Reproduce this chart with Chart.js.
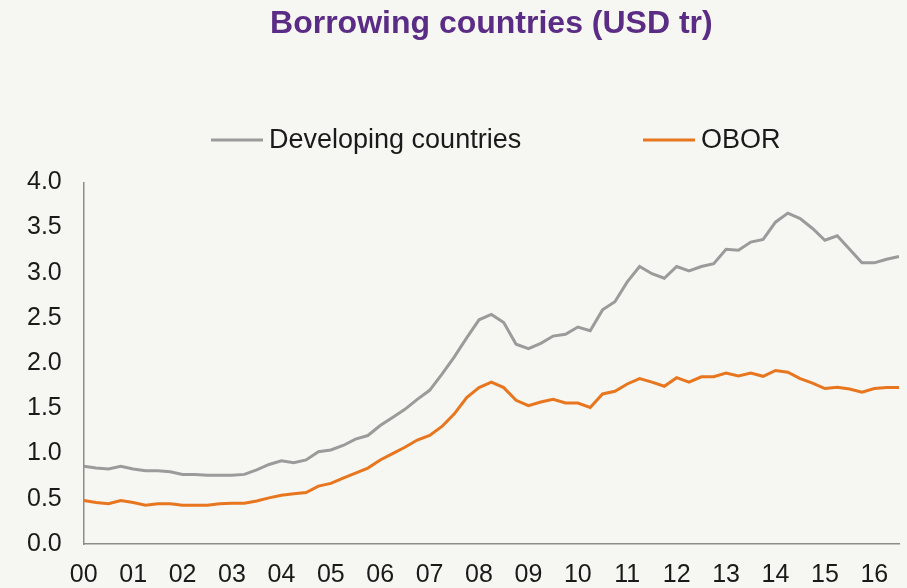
<!DOCTYPE html>
<html>
<head>
<meta charset="utf-8">
<script src="https://cdn.jsdelivr.net/npm/chart.js@4.4.1/dist/chart.umd.min.js"></script>
<style>
  html, body { margin: 0; padding: 0; background: #f6f6f2; }
  #wrap { width: 907px; height: 588px; }
</style>
</head>
<body>
<div id="wrap"><canvas id="myChart"></canvas></div>
<script>
// quarterly data, 2000 Q1 .. 2016 Q3
const yearTicks = ['00','01','02','03','04','05','06','07','08','09','10','11','12','13','14','15','16'];
const quarters = [];
yearTicks.forEach(y => ['Q1','Q2','Q3','Q4'].forEach(q => quarters.push(y + ' ' + q)));
quarters.length = 67;

const developing = [
  0.86, 0.84, 0.83, 0.86, 0.83, 0.81, 0.81, 0.80, 0.77, 0.77, 0.76, 0.76,
  0.76, 0.77, 0.82, 0.88, 0.92, 0.90, 0.93, 1.02, 1.04, 1.09, 1.16, 1.20,
  1.31, 1.40, 1.49, 1.60, 1.70, 1.88, 2.07, 2.28, 2.48, 2.54, 2.45, 2.21,
  2.16, 2.22, 2.30, 2.32, 2.40, 2.36, 2.59, 2.68, 2.90, 3.07, 2.99, 2.94,
  3.07, 3.02, 3.07, 3.10, 3.26, 3.25, 3.34, 3.37, 3.56, 3.66, 3.60, 3.49,
  3.36, 3.41, 3.26, 3.11, 3.11, 3.15, 3.18
];
const obor = [
  0.48, 0.46, 0.445, 0.48, 0.46, 0.43, 0.445, 0.445, 0.43, 0.43, 0.43, 0.445,
  0.45, 0.45, 0.475, 0.51, 0.54, 0.555, 0.57, 0.64, 0.67, 0.73, 0.785, 0.84,
  0.93, 1.00, 1.07, 1.15, 1.20, 1.30, 1.44, 1.62, 1.73, 1.79, 1.73, 1.59,
  1.53, 1.57, 1.60, 1.56, 1.56, 1.51, 1.66, 1.69, 1.77, 1.83, 1.79, 1.745,
  1.84, 1.79, 1.85, 1.85, 1.89, 1.86, 1.89, 1.855, 1.92, 1.90, 1.83, 1.78,
  1.72, 1.735, 1.715, 1.68, 1.72, 1.73, 1.73
];

const FONT = '"Liberation Sans", Arial, sans-serif';

// legend drawn as two spaced items over the plot area
const lineLegend = {
  id: 'lineLegend',
  afterDraw(chart) {
    const ctx = chart.ctx;
    const y = 140;
    const starts = [211, 643];
    ctx.save();
    ctx.font = '27px ' + FONT;
    ctx.textBaseline = 'middle';
    ctx.textAlign = 'left';
    chart.data.datasets.forEach((ds, i) => {
      const x = starts[i];
      ctx.strokeStyle = ds.borderColor;
      ctx.lineWidth = ds.borderWidth;
      ctx.beginPath();
      ctx.moveTo(x, y);
      ctx.lineTo(x + 52, y);
      ctx.stroke();
      ctx.fillStyle = '#1a1a1a';
      ctx.fillText(ds.label, x + 58, y + 1);
    });
    ctx.restore();
  }
};

new Chart(document.getElementById('myChart'), {
  type: 'line',
  data: {
    labels: quarters,
    datasets: [
      { label: 'Developing countries', data: developing, borderColor: '#9b9b9b', borderWidth: 3 },
      { label: 'OBOR', data: obor, borderColor: '#e8761f', borderWidth: 3 }
    ]
  },
  options: {
    responsive: true,
    maintainAspectRatio: false,
    animation: false,
    elements: { point: { radius: 0 }, line: { tension: 0 } },
    layout: { padding: { left: 5, right: 8, top: 0, bottom: -18 } },
    plugins: {
      legend: { display: false },
      tooltip: { enabled: false },
      title: {
        display: true,
        fullSize: false,
        text: 'Borrowing countries (USD tr)',
        color: '#5b2c86',
        font: { family: FONT, size: 32, weight: 'bold' },
        padding: { top: 5, bottom: 139 }
      }
    },
    scales: {
      x: {
        offset: false,
        afterFit: scale => { scale.paddingRight = 0; },
        grid: { display: false, drawTicks: false },
        border: { display: true, color: '#8c8c8c', width: 1.5 },
        ticks: {
          autoSkip: false,
          maxRotation: 0,
          padding: 16,
          color: '#1a1a1a',
          font: { family: FONT, size: 25 },
          callback: (v, i) => (i % 4 === 0 ? yearTicks[i / 4] : '')
        }
      },
      y: {
        min: 0,
        max: 4,
        grid: { display: false, drawTicks: false },
        border: { display: true, color: '#8c8c8c', width: 1.5 },
        ticks: {
          stepSize: 0.5,
          padding: 22,
          color: '#1a1a1a',
          font: { family: FONT, size: 25 },
          callback: v => v.toFixed(1)
        }
      }
    }
  },
  plugins: [lineLegend]
});
</script>
</body>
</html>
